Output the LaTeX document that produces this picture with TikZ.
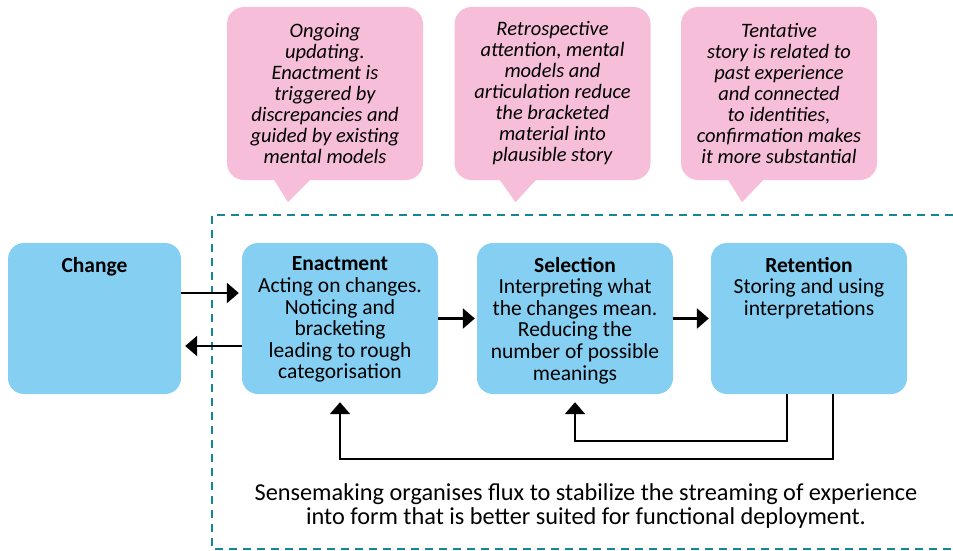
\documentclass[tikz,border=0pt]{standalone}
\usepackage{fontspec}
\setmainfont{Carlito}
\usetikzlibrary{arrows.meta}
\definecolor{boxblue}{RGB}{132,207,242}
\definecolor{calloutpink}{RGB}{246,190,217}
\definecolor{frameteal}{RGB}{20,135,150}
\begin{document}
\begin{tikzpicture}[x=1pt,y=-1pt,
  bluebox/.style={fill=boxblue, rounded corners=16pt, draw=none, inner sep=0pt, minimum height=151pt},
  callout/.style={fill=calloutpink, rounded corners=17pt, draw=none, inner sep=0pt, minimum width=196pt, minimum height=173pt},
  boxtext/.style={align=center, inner sep=0pt, font=\fontsize{21.5}{21.6}\selectfont},
  callouttext/.style={align=center, inner sep=0pt, font=\fontsize{20.5}{21}\selectfont\itshape},
  bottomtext/.style={align=center, inner sep=0pt, font=\fontsize{24.3}{24}\selectfont},
  arr/.style={line width=2.6pt, -{Triangle[length=12pt,width=20pt]}},
  fbline/.style={line width=2.6pt, -{Triangle[length=12pt,width=20pt]}},
  frame/.style={draw=frameteal, line width=2.5pt, dash pattern=on 8pt off 6pt}]
\useasboundingbox (0,0) rectangle (953,551);

% dashed frame (open on the right)
\draw[frame] (953,215) -- (212,215) -- (212,549) -- (953,549);

% callouts
\node[callout] (c1) at (325,93.5) {};
\fill[calloutpink] ([xshift=-52pt,yshift=2pt]c1.south) -- ([xshift=-13pt,yshift=2pt]c1.south) -- ([xshift=-37pt,yshift=-22pt]c1.south) -- cycle;
\node[callouttext] (t1) at (c1.center) {Ongoing\\updating.\\Enactment is\\triggered by\\discrepancies and\\guided by existing\\mental models};

\node[callout] (c2) at (552.5,93.5) {};
\fill[calloutpink] ([xshift=-54pt,yshift=2pt]c2.south) -- ([xshift=-15pt,yshift=2pt]c2.south) -- ([xshift=-37pt,yshift=-22pt]c2.south) -- cycle;
\node[callouttext] (t2) at (c2.center) {Retrospective\\attention, mental\\models and\\articulation reduce\\the bracketed\\material into\\plausible story};

\node[callout] (c3) at (779,93.5) {};
\fill[calloutpink] ([xshift=-52pt,yshift=2pt]c3.south) -- ([xshift=-14pt,yshift=2pt]c3.south) -- ([xshift=-37pt,yshift=-22pt]c3.south) -- cycle;
\node[callouttext] (t3) at (c3.center) {Tentative\\story is related to\\past experience\\and connected\\to identities,\\confirmation makes\\it more substantial};

% blue boxes
\node[bluebox, minimum width=173pt] (chg) at (94.5,318.5) {};
\node[bluebox, minimum width=196pt] (ena) at (340,318.5) {};
\node[bluebox, minimum width=196pt] (sel) at (575,318.5) {};
\node[bluebox, minimum width=196pt] (ret) at (809,318.5) {};

\node[boxtext, anchor=north] (chgt) at ([yshift=-14pt]chg.north) {\textbf{Change}};
\node[boxtext, anchor=north] (enat) at ([yshift=-14pt]ena.north) {\textbf{Enactment}\\Acting on changes.\\Noticing and\\bracketing\\leading to rough\\categorisation};
\node[boxtext, anchor=north] (selt) at ([yshift=-14pt]sel.north) {\textbf{Selection}\\Interpreting what\\the changes mean.\\Reducing the\\number of possible\\meanings};
\node[boxtext, anchor=north] (rett) at ([yshift=-14pt]ret.north) {\textbf{Retention}\\Storing and using\\interpretations};

% arrows
\coordinate (a1) at (0,293);
\coordinate (a2) at (0,346);
\draw[arr, shorten >=3pt] (chg.east |- a1) -- (ena.west |- a1);
\draw[arr, shorten >=4pt] (ena.west |- a2) -- (chg.east |- a2);
\draw[arr, shorten >=2pt] (ena.east) -- (sel.west);
\draw[arr, shorten >=2pt] (sel.east) -- (ret.west);

% feedback loops
\coordinate (fb1) at (787,441);
\coordinate (fb2) at (833,459);
\draw[fbline, shorten >=8pt] (ret.south -| fb1) -- (fb1) -| (sel.south);
\draw[fbline, shorten >=8pt] (ret.south -| fb2) -- (fb2) -| (ena.south);

% bottom text
\node[bottomtext] (bt) at (586,506) {Sensemaking organises flux to stabilize the streaming of experience\\into form that is better suited for functional deployment.};
\end{tikzpicture}
\end{document}
